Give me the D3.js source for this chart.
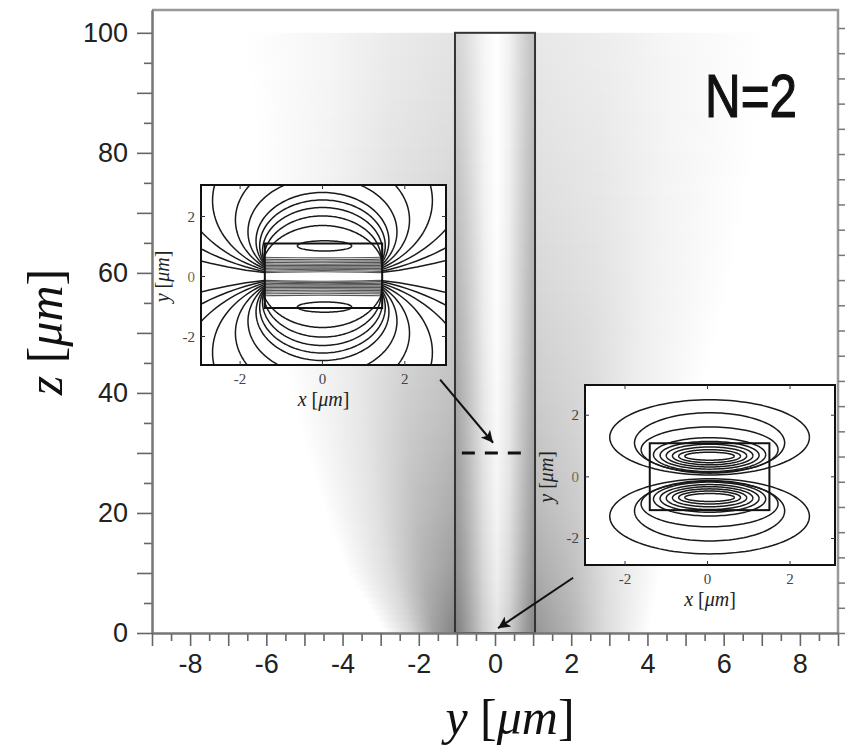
<!DOCTYPE html>
<html>
<head>
<meta charset="utf-8">
<script src="https://cdn.jsdelivr.net/npm/d3@7"></script>
<style>
  body { margin: 0; background: #fff; }
  svg { display: block; }
</style>
</head>
<body>
<div id="chart"></div>
<script>
// ---- data ----
// shading levels (0-255 grey) sampled along z
const shadeZ        = [0, 10, 20, 30, 40, 50, 60, 70, 80, 90, 100];
const leftEdgeGray  = [130, 155, 170, 182, 192, 200, 207, 213, 219, 224, 228];
const leftReach     = [1.8, 2.8, 3.4, 3.9, 4.3, 4.6, 4.9, 5.1, 5.3, 5.4, 5.5];
const rightEdgeGray = [150, 170, 185, 196, 204, 210, 216, 221, 225, 229, 232];
const rightReach    = [3.0, 3.3, 3.6, 4.0, 4.4, 4.8, 5.2, 5.5, 5.8, 6.0, 6.2];
const coreLeftGray  = [125, 140, 150, 158, 165, 172, 180, 188, 196, 204, 210];
const coreRightGray = [130, 145, 155, 162, 168, 172, 176, 180, 184, 188, 190];
const coreCenter    = [228, 238, 244, 248, 250, 252, 253, 254, 255, 255, 255];

// waveguide (y extent, z extent) and dashed cut
const guideY = [-1.05, 1.05];
const guideZ = [0, 100];
const cutZ = 30;
const cutY = [-0.87, 0.8];

// arrows: [y, z] start -> end
const arrowFrom = [[-1.44, 42.2], [2.05, 9.2]];
const arrowTo   = [[-0.05, 31.7], [0.08, 0.8]];

// main axis ticks
const zMajor = d3.range(0, 101, 10);
const zMinor = d3.range(5, 101, 10);
const yMajor = d3.range(-9, 10, 1);
const yMinor = d3.range(-8.5, 9, 1);
const rightTicks = d3.range(0, 101, 4.2);

// inset 1: upper family of contour loops (lower one is mirrored)
// outer height at x=0, height where it meets the core side, inner height at x=0
const in1Outer = [1.7, 2.02, 2.3, 2.55, 2.8, 3.3, 4.0, 5.2, 7.0, 10, 18];
const in1Side  = [0.64, 0.58, 0.52, 0.47, 0.42, 0.37, 0.32, 0.27, 0.22, 0.17, 0.13];
const in1Inner = [0.62, 0.56, 0.51, 0.46, 0.41, 0.37, 0.32, 0.28, 0.24, 0.20, 0.16];
const in1Half = 1.42;
const in1EllCy = [1.02];
const in1EllRx = [0.66];
const in1EllRy = [0.17];
const in1Core = { x: [-1.4, 1.45], y: [-1.05, 1.1] };

// inset 2: nested ellipses (upper family; lower one is mirrored)
const in2Cy = [1.28, 1.1, 0.88, 0.72, 0.70, 0.69, 0.68, 0.67, 0.67];
const in2Rx = [2.42, 1.82, 1.66, 1.36, 1.2, 1.05, 0.9, 0.75, 0.6];
const in2Ry = [1.22, 0.98, 0.74, 0.55, 0.45, 0.37, 0.29, 0.21, 0.13];
const in2Core = { x: [-1.4, 1.5], y: [-1.08, 1.09] };

const insetTicks = [-2, 0, 2];

// ---- layout ----
const W = 848, H = 746;
const L = 152, R = 838, T = 10, B = 633;
const sans = "'Liberation Sans', Arial, sans-serif";
const serif = "'Liberation Serif', 'Times New Roman', serif";

const svg = d3.select("#chart").append("svg")
  .attr("width", W).attr("height", H);
const defs = svg.append("defs");

const x = d3.scaleLinear().domain([-9, 9]).range([L, R]);
const z = d3.scaleLinear().domain([0, 103.8]).range([B, T]);

const grey = v => { v = Math.max(0, Math.min(255, Math.round(v))); return `rgb(${v},${v},${v})`; };
const sc = arr => d3.scaleLinear().domain(shadeZ).range(arr).clamp(true);
const fLG = sc(leftEdgeGray), fLR = sc(leftReach);
const fRG = sc(rightEdgeGray), fRR = sc(rightReach);
const fCL = sc(coreLeftGray), fCR = sc(coreRightGray), fCC = sc(coreCenter);

// ---- shading, drawn as thin strips along z ----
const shade = svg.append("g");
const strips = d3.range(guideZ[0], guideZ[1], 1);
strips.forEach((zv, i) => {
  const zm = zv + 0.5;
  const yTop = z(zv + 1), h = z(zv) - z(zv + 1) + 0.6;

  // left of guide
  const gl = defs.append("linearGradient").attr("id", "gl" + i)
    .attr("gradientUnits", "userSpaceOnUse")
    .attr("x1", x(guideY[0])).attr("x2", x(guideY[0] - fLR(zm)))
    .attr("y1", 0).attr("y2", 0);
  const g1 = fLG(zm);
  [[0, 0], [0.3, 0.25], [0.6, 0.65], [1, 1]].forEach(([o, f]) =>
    gl.append("stop").attr("offset", o).attr("stop-color", grey(g1 + f * (255 - g1))));
  shade.append("rect").attr("x", L).attr("y", yTop)
    .attr("width", x(guideY[0]) - L).attr("height", h)
    .attr("fill", `url(#gl${i})`);

  // right of guide
  const gr = defs.append("linearGradient").attr("id", "gr" + i)
    .attr("gradientUnits", "userSpaceOnUse")
    .attr("x1", x(guideY[1])).attr("x2", x(guideY[1] + fRR(zm)))
    .attr("y1", 0).attr("y2", 0);
  const g2 = fRG(zm);
  [[0, 0], [0.3, 0.25], [0.6, 0.65], [1, 1]].forEach(([o, f]) =>
    gr.append("stop").attr("offset", o).attr("stop-color", grey(g2 + f * (255 - g2))));
  shade.append("rect").attr("x", x(guideY[1])).attr("y", yTop)
    .attr("width", R - x(guideY[1])).attr("height", h)
    .attr("fill", `url(#gr${i})`);

  // inside guide
  const gw = defs.append("linearGradient").attr("id", "gw" + i)
    .attr("gradientUnits", "userSpaceOnUse")
    .attr("x1", x(guideY[0])).attr("x2", x(guideY[1]))
    .attr("y1", 0).attr("y2", 0);
  const cL = fCL(zm), cR = fCR(zm), cC = fCC(zm);
  [[0, cL], [0.15, cL + 0.3 * (cC - cL)], [0.36, cL + 0.78 * (cC - cL)],
   [0.52, cC], [0.68, cR + 0.78 * (cC - cR)], [0.87, cR + 0.3 * (cC - cR)], [1, cR]]
    .forEach(([o, v]) => gw.append("stop").attr("offset", o).attr("stop-color", grey(v)));
  shade.append("rect").attr("x", x(guideY[0])).attr("y", yTop)
    .attr("width", x(guideY[1]) - x(guideY[0])).attr("height", h)
    .attr("fill", `url(#gw${i})`);
});

// waveguide outline
svg.append("rect")
  .attr("x", x(guideY[0])).attr("y", z(guideZ[1]))
  .attr("width", x(guideY[1]) - x(guideY[0])).attr("height", z(guideZ[0]) - z(guideZ[1]))
  .attr("fill", "none").attr("stroke", "#333").attr("stroke-width", 2);

// dashed cut
svg.append("line")
  .attr("x1", x(cutY[0])).attr("x2", x(cutY[1]))
  .attr("y1", z(cutZ)).attr("y2", z(cutZ))
  .attr("stroke", "#111").attr("stroke-width", 3).attr("stroke-dasharray", "13,10");

// ---- frame and axes ----
svg.append("path")
  .attr("d", `M${L},${T}H${R}V${B}`)
  .attr("fill", "none").attr("stroke", "#999").attr("stroke-width", 2.5);

function styleAxis(g) {
  g.select(".domain").attr("stroke", "#777").attr("stroke-width", 2);
  g.selectAll(".tick line").attr("stroke", "#666").attr("stroke-width", 1.6);
  g.selectAll(".tick text").attr("fill", "#222")
    .style("font-family", sans).style("font-size", "27px");
}

svg.append("g").attr("transform", `translate(${L},0)`)
  .call(d3.axisLeft(z).tickValues(zMinor).tickSize(8).tickSizeOuter(0).tickFormat(""))
  .call(styleAxis);
svg.append("g").attr("transform", `translate(${L},0)`)
  .call(d3.axisLeft(z).tickValues(zMajor).tickSize(15).tickSizeOuter(0).tickPadding(9)
    .tickFormat(d => d % 20 === 0 ? String(d) : ""))
  .call(styleAxis);

svg.append("g").attr("transform", `translate(0,${B})`)
  .call(d3.axisBottom(x).tickValues(yMinor).tickSize(8).tickSizeOuter(0).tickFormat(""))
  .call(styleAxis);
svg.append("g").attr("transform", `translate(0,${B})`)
  .call(d3.axisBottom(x).tickValues(yMajor).tickSize(13).tickSizeOuter(0).tickPadding(8)
    .tickFormat(d => d % 2 === 0 ? String(d) : ""))
  .call(styleAxis);

svg.append("g").attr("transform", `translate(${R},0)`)
  .call(d3.axisRight(z).tickValues(rightTicks).tickSize(7).tickSizeOuter(0).tickFormat(""))
  .call(g => { g.select(".domain").remove(); g.selectAll(".tick line").attr("stroke", "#777").attr("stroke-width", 1.5); });

// axis titles
function unitTitle(sel, v) {
  sel.append("tspan").style("font-style", "italic").text(v);
  sel.append("tspan").text(" [");
  sel.append("tspan").style("font-style", "italic").text("μm");
  sel.append("tspan").text("]");
}
svg.append("text")
  .attr("x", 510).attr("y", 734).attr("text-anchor", "middle")
  .style("font-family", serif).style("font-size", "50px").attr("fill", "#111")
  .call(unitTitle, "y");
svg.append("text")
  .attr("transform", "translate(62,332) rotate(-90)").attr("text-anchor", "middle")
  .style("font-family", serif).style("font-size", "50px").attr("fill", "#111")
  .call(unitTitle, "z");

svg.append("text")
  .attr("x", 705).attr("y", 117)
  .attr("textLength", 92).attr("lengthAdjust", "spacingAndGlyphs")
  .style("font-family", sans).style("font-size", "62px")
  .attr("fill", "#111").attr("stroke", "#111").attr("stroke-width", 1.2)
  .text("N=2");

// ---- arrows ----
defs.append("marker").attr("id", "head")
  .attr("viewBox", "0 0 10 10").attr("refX", 10).attr("refY", 5)
  .attr("markerWidth", 7).attr("markerHeight", 6).attr("orient", "auto")
  .append("path").attr("d", "M0,0L10,5L0,10L2.5,5Z").attr("fill", "#111");

svg.selectAll(".arrow").data(d3.zip(arrowFrom, arrowTo)).enter()
  .append("line").attr("class", "arrow")
  .attr("x1", d => x(d[0][0])).attr("y1", d => z(d[0][1]))
  .attr("x2", d => x(d[1][0])).attr("y2", d => z(d[1][1]))
  .attr("stroke", "#111").attr("stroke-width", 2)
  .attr("marker-end", "url(#head)");

// ---- insets ----
function drawInset(id, box, xd, yd, core, curves, smooth) {
  const ix = d3.scaleLinear().domain(xd).range([box.l, box.l + box.w]);
  const iy = d3.scaleLinear().domain(yd).range([box.t + box.h, box.t]);
  const g = svg.append("g");
  g.append("rect").attr("x", box.l).attr("y", box.t).attr("width", box.w).attr("height", box.h)
    .attr("fill", "#fff");
  defs.append("clipPath").attr("id", "clip" + id)
    .append("rect").attr("x", box.l).attr("y", box.t).attr("width", box.w).attr("height", box.h);

  const line = d3.line().x(d => ix(d[0])).y(d => iy(d[1]));
  const cg = g.append("g").attr("clip-path", `url(#clip${id})`);
  if (smooth) {
    const sline = d3.line().x(d => ix(d[0])).y(d => iy(d[1])).curve(d3.curveNatural);
    cg.selectAll("path.s").data(smooth).enter().append("path").attr("class", "s")
      .attr("d", sline).attr("fill", "none")
      .attr("stroke", "#555").attr("stroke-width", 1.1);
  }
  cg.selectAll("path.c").data(curves).enter().append("path").attr("class", "c")
    .attr("d", line).attr("fill", "none")
    .attr("stroke", "#1a1a1a").attr("stroke-width", 1.5);

  g.append("rect")
    .attr("x", ix(core.x[0])).attr("y", iy(core.y[1]))
    .attr("width", ix(core.x[1]) - ix(core.x[0])).attr("height", iy(core.y[0]) - iy(core.y[1]))
    .attr("fill", "none").attr("stroke", "#111").attr("stroke-width", 2);

  g.append("rect").attr("x", box.l).attr("y", box.t).attr("width", box.w).attr("height", box.h)
    .attr("fill", "none").attr("stroke", "#111").attr("stroke-width", 2);

  // inner tick marks on all four sides
  insetTicks.forEach(v => {
    g.append("line").attr("x1", ix(v)).attr("x2", ix(v)).attr("y1", box.t + box.h).attr("y2", box.t + box.h - 4).attr("stroke", "#333");
    g.append("line").attr("x1", ix(v)).attr("x2", ix(v)).attr("y1", box.t).attr("y2", box.t + 4).attr("stroke", "#333");
    g.append("line").attr("y1", iy(v)).attr("y2", iy(v)).attr("x1", box.l).attr("x2", box.l + 4).attr("stroke", "#333");
    g.append("line").attr("y1", iy(v)).attr("y2", iy(v)).attr("x1", box.l + box.w).attr("x2", box.l + box.w - 4).attr("stroke", "#333");
  });

  g.selectAll(".xt").data(insetTicks).enter().append("text")
    .attr("x", d => ix(d)).attr("y", box.t + box.h + 19).attr("text-anchor", "middle")
    .style("font-family", serif).style("font-size", "15px").attr("fill", "#444")
    .text(d => String(d));
  g.selectAll(".yt").data(insetTicks).enter().append("text")
    .attr("x", box.l - 6).attr("y", d => iy(d) + 5).attr("text-anchor", "end")
    .style("font-family", serif).style("font-size", "15px")
    .attr("fill", d => d === 0 ? "#7d6a4a" : "#444")
    .text(d => String(d));

  g.append("text")
    .attr("x", ix((xd[0] + xd[1]) / 2)).attr("y", box.t + box.h + 41).attr("text-anchor", "middle")
    .style("font-family", serif).style("font-size", "20px").attr("fill", "#222")
    .call(unitTitle, "x");
  g.append("text")
    .attr("transform", `translate(${box.l - 32},${iy(0)}) rotate(-90)`).attr("text-anchor", "middle")
    .style("font-family", serif).style("font-size", "20px").attr("fill", "#222")
    .call(unitTitle, "y");
}

function ellipsePts(cx, cy, rx, ry) {
  return d3.range(0, 121).map(k => {
    const t = k / 120 * 2 * Math.PI;
    return [cx + rx * Math.cos(t), cy + ry * Math.sin(t)];
  });
}

// outer arc of a circle that passes through (+-a, d) and crosses x=0 at h
function outerArc(a, d, hh, sgn) {
  const c = (hh * hh - a * a - d * d) / (2 * (hh - d));
  const r = hh - c;
  const t0 = Math.atan2(d - c, a), t1 = Math.PI - t0;
  return d3.range(0, 121).map(k => {
    const t = t0 + (t1 - t0) * k / 120;
    return [r * Math.cos(t), sgn * (c + r * Math.sin(t))];
  });
}

// inset 1 curves
const in1Curves = [], in1Smooth = [];
in1Outer.forEach((hh, i) => {
  [1, -1].forEach(sgn => {
    in1Curves.push(outerArc(in1Half, in1Side[i], hh, sgn));
    in1Smooth.push([[-in1Half, sgn * in1Side[i]], [0, sgn * in1Inner[i]], [in1Half, sgn * in1Side[i]]]);
  });
});
in1EllCy.forEach((cy, i) => {
  in1Curves.push(ellipsePts(0.05, cy, in1EllRx[i], in1EllRy[i]));
  in1Curves.push(ellipsePts(0.05, -cy, in1EllRx[i], in1EllRy[i]));
});

const in2Curves = [];
in2Cy.forEach((cy, i) => {
  in2Curves.push(ellipsePts(0.05, cy, in2Rx[i], in2Ry[i]));
  in2Curves.push(ellipsePts(0.05, -cy, in2Rx[i], in2Ry[i]));
});

drawInset(1, { l: 201, t: 185, w: 245, h: 180 }, [-2.95, 3.0], [-2.95, 3.05], in1Core, in1Curves, in1Smooth);
drawInset(2, { l: 585, t: 385, w: 250, h: 180 }, [-2.97, 3.09], [-2.86, 2.98], in2Core, in2Curves);
</script>
</body>
</html>
